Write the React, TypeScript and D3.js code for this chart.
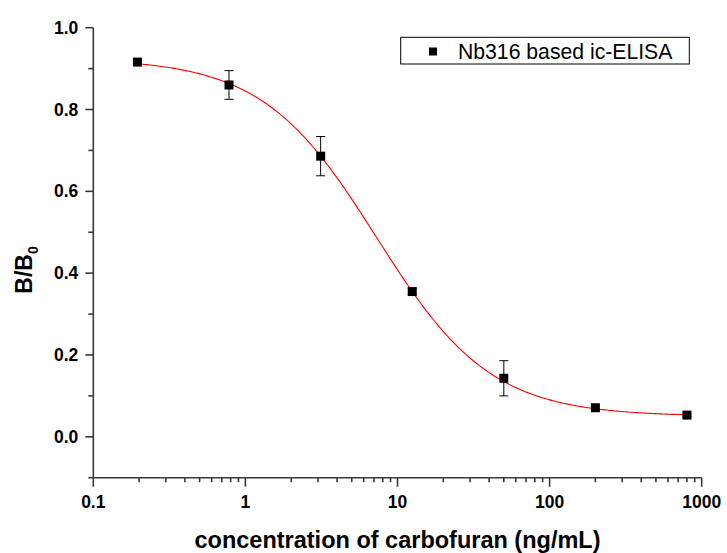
import React from "react";
import * as d3 from "d3";

// ---- data ----
const concentrations = [0.195, 0.78, 3.125, 12.5, 50, 200, 800]; // ng/mL
const ratios = [0.916, 0.86, 0.686, 0.355, 0.143, 0.071, 0.053]; // B/B0
const errors = [0.005, 0.035, 0.048, 0.008, 0.043, 0.005, 0.004];
// four-parameter logistic fit (top, bottom, x0, power)
const fitTop = 0.925;
const fitBottom = 0.05;
const fitX0 = 7.28;
const fitP = 1.157;
const xTickValues = [0.1, 1, 10, 100, 1000];
const xTickLabels = ["0.1", "1", "10", "100", "1000"];
const yTickValues = [0, 0.2, 0.4, 0.6, 0.8, 1.0];
const yMinorValues = [-0.1, 0.1, 0.3, 0.5, 0.7, 0.9];
const legendLabel = "Nb316 based ic-ELISA";
const xTitle = "concentration of carbofuran (ng/mL)";

const W = 727;
const H = 553;
const left = 93.3;
const right = 701.7;
const top = 27.7;
const bottom = 477.7;
const FONT = "'Liberation Sans', Arial, Helvetica, sans-serif";
const AXIS = "#3a3a3a";

export default function App() {
  const x = d3.scaleLog().domain([0.1, 1000]).range([left, right]);
  const y = d3.scaleLinear().domain([-0.1, 1.0]).range([bottom, top]);

  const logistic = (c: number) => fitBottom + (fitTop - fitBottom) / (1 + Math.pow(c / fitX0, fitP));
  const lo = Math.log10(concentrations[0]);
  const hi = Math.log10(concentrations[concentrations.length - 1]);
  const curveX = d3.range(0, 301).map((i) => Math.pow(10, lo + ((hi - lo) * i) / 300));
  const line = d3
    .line<number>()
    .x((c) => x(c))
    .y((c) => y(logistic(c)));

  const xMinor: number[] = [];
  for (let d = 0.1; d < 1000; d *= 10) {
    for (let k = 2; k <= 9; k++) xMinor.push(d * k);
  }

  const ms = 9;
  const cap = 9;

  return (
    <svg
      width={W}
      height={H}
      style={{ position: "absolute", left: 0, top: 0, background: "#fff" }}
      fontFamily={FONT}
    >
      {/* fitted curve */}
      <path d={line(curveX) || ""} fill="none" stroke="#ff0000" strokeWidth={1.1} />

      {/* error bars */}
      {concentrations.map((c, i) => {
        const cx = x(c);
        const y1 = y(ratios[i] + errors[i]);
        const y2 = y(ratios[i] - errors[i]);
        return (
          <g key={"e" + i} stroke="#000" strokeWidth={1}>
            <line x1={cx} x2={cx} y1={y1} y2={y2} />
            <line x1={cx - cap / 2} x2={cx + cap / 2} y1={y1} y2={y1} />
            <line x1={cx - cap / 2} x2={cx + cap / 2} y1={y2} y2={y2} />
          </g>
        );
      })}

      {/* markers */}
      {concentrations.map((c, i) => (
        <rect
          key={"m" + i}
          x={x(c) - ms / 2}
          y={y(ratios[i]) - ms / 2}
          width={ms}
          height={ms}
          fill="#000"
        />
      ))}

      {/* axes */}
      <g stroke={AXIS} strokeWidth={1.6}>
        <line x1={left} x2={left} y1={top} y2={bottom} />
        <line x1={left} x2={right} y1={bottom} y2={bottom} />
        {yTickValues.map((v) => (
          <line key={"yt" + v} x1={left - 8} x2={left} y1={y(v)} y2={y(v)} />
        ))}
        {yMinorValues.map((v) => (
          <line key={"ym" + v} x1={left - 5} x2={left} y1={y(v)} y2={y(v)} />
        ))}
        {xTickValues.map((v) => (
          <line key={"xt" + v} x1={x(v)} x2={x(v)} y1={bottom} y2={bottom + 9} />
        ))}
        {xMinor.map((v, i) => (
          <line key={"xm" + i} x1={x(v)} x2={x(v)} y1={bottom} y2={bottom + 4.5} />
        ))}
      </g>

      {/* y tick labels */}
      {yTickValues.map((v) => (
        <text
          key={"yl" + v}
          x={left - 15}
          y={y(v)}
          dy="0.35em"
          textAnchor="end"
          fontSize={17.5}
          fontWeight="bold"
          fill="#000"
        >
          {d3.format(".1f")(v)}
        </text>
      ))}

      {/* x tick labels */}
      {xTickValues.map((v, i) => (
        <text
          key={"xl" + v}
          x={x(v)}
          y={bottom + 30.5}
          textAnchor="middle"
          fontSize={17.5}
          fontWeight="bold"
          fill="#000"
        >
          {xTickLabels[i]}
        </text>
      ))}

      {/* axis titles */}
      <text
        x={(left + right) / 2}
        y={548}
        textAnchor="middle"
        fontSize={23.5}
        fontWeight="bold"
        fill="#000"
      >
        {xTitle}
      </text>
      <text
        transform={`translate(31.5, 270) rotate(-90)`}
        textAnchor="middle"
        fontSize={23}
        fontWeight="bold"
        fill="#000"
      >
        B/B
        <tspan fontSize={14} dy={6}>
          0
        </tspan>
      </text>

      {/* legend */}
      <rect x={400.7} y={37.3} width={288.6} height={26.7} fill="#fff" stroke="#000" strokeWidth={1} />
      <rect x={433 - 4} y={51.5 - 4} width={8} height={8} fill="#000" />
      <text x={458} y={59.3} fontSize={21.2} fill="#000">
        {legendLabel}
      </text>
    </svg>
  );
}
